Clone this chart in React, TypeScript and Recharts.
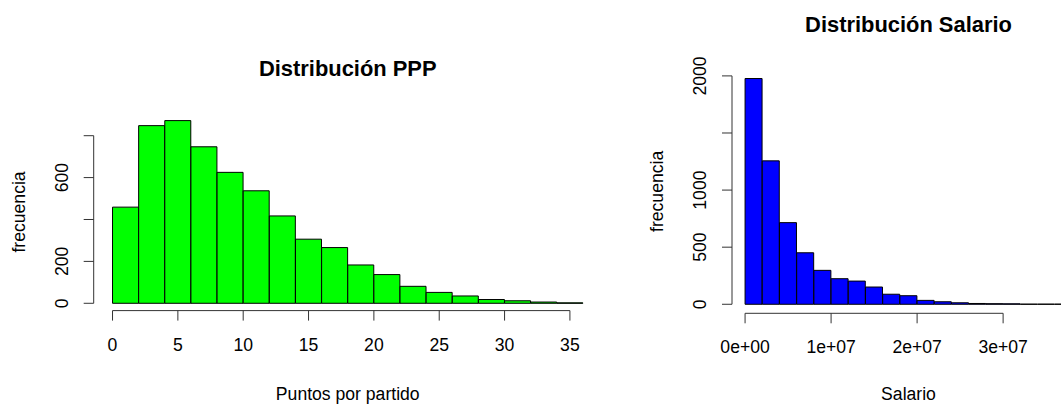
import { BarChart, Bar, XAxis, YAxis, ReferenceLine } from "recharts";

// histogram breaks and counts
const pppBreaks = [0, 2, 4, 6, 8, 10, 12, 14, 16, 18, 20, 22, 24, 26, 28, 30, 32, 34, 36];
const pppCounts = [459, 848, 872, 747, 625, 537, 417, 306, 266, 183, 137, 81, 52, 35, 18, 12, 6, 2];
const pppXTicks = [0, 5, 10, 15, 20, 25, 30, 35];
const pppYTicks = [0, 200, 400, 600, 800];
const pppYLabels = [0, 200, 600];

const salBreaks = [
  0, 2e6, 4e6, 6e6, 8e6, 10e6, 12e6, 14e6, 16e6, 18e6, 20e6, 22e6, 24e6, 26e6, 28e6, 30e6, 32e6, 34e6, 36e6, 38e6,
];
const salCounts = [1977, 1256, 715, 451, 297, 224, 203, 151, 88, 75, 34, 22, 13, 7, 5, 4, 1, 1, 1];
const salXTicks = [0, 1e7, 2e7, 3e7];
const salYTicks = [0, 500, 1000, 1500, 2000];
const salYLabels = [0, 500, 1000, 2000];

const FONT = "'Liberation Sans', Arial, sans-serif";
const FS = 17.6;
const H = 405;
const XH = 50;

// R style scientific labels: 1e+07
const sci = (v: number) => {
  if (v === 0) return "0e+00";
  const e = Math.floor(Math.log10(Math.abs(v)));
  const m = Math.round(v / Math.pow(10, e));
  return `${m}e+${String(e).padStart(2, "0")}`;
};

function YTick(props: any) {
  const { x, y, payload, shown } = props;
  if (!shown.includes(payload.value)) return null;
  return (
    <text
      x={x}
      y={y}
      transform={`rotate(-90 ${x} ${y})`}
      textAnchor="middle"
      fill="#000"
      fontSize={FS}
      fontFamily={FONT}
    >
      {payload.value}
    </text>
  );
}

type Box = { left: number; top: number; right: number; bottom: number };

function Hist(props: {
  breaks: number[];
  counts: number[];
  xTicks: number[];
  yTicks: number[];
  yLabels: number[];
  fill: string;
  title: string;
  xLabel: string;
  chartLeft: number;
  chartWidth: number;
  box: Box;
  fmt?: (v: number) => string;
}) {
  const { breaks, counts, xTicks, yTicks, yLabels, fill, title, xLabel, chartLeft, chartWidth, box, fmt } = props;
  const rows = counts.map((c, i) => ({ mid: (breaks[i] + breaks[i + 1]) / 2, count: c }));

  // R pads each axis range by 4%
  const x0 = breaks[0];
  const x1 = breaks[breaks.length - 1];
  const xPad = (x1 - x0) * 0.04;
  const xDomain = [x0 - xPad, x1 + xPad];
  const yMax = Math.max(...counts);
  const yDomain = [-yMax * 0.04, yMax * 1.04];

  const midX = (box.left + box.right) / 2 - chartLeft;
  const midY = (box.top + box.bottom) / 2;
  const ylabX = box.left - chartLeft - 68.7;

  return (
    <div style={{ position: "absolute", left: chartLeft, top: 0, width: chartWidth, height: H }}>
      <BarChart
        width={chartWidth}
        height={H}
        data={rows}
        barCategoryGap={0}
        barGap={0}
        margin={{
          top: box.top,
          right: chartLeft + chartWidth - box.right,
          bottom: H - box.bottom - XH,
          left: 0,
        }}
      >
        <XAxis
          dataKey="mid"
          type="number"
          domain={xDomain}
          allowDataOverflow
          ticks={xTicks}
          interval={0}
          height={XH}
          axisLine={false}
          tickLine={{ stroke: "#333" }}
          tickSize={10}
          tickMargin={17.5}
          tickFormatter={fmt}
          tick={{ fill: "#000", fontSize: FS, fontFamily: FONT }}
        />
        <YAxis
          type="number"
          domain={yDomain}
          allowDataOverflow
          ticks={yTicks}
          interval={0}
          width={box.left - chartLeft}
          axisLine={false}
          tickLine={{ stroke: "#333" }}
          tickSize={10}
          tickMargin={15.5}
          tick={<YTick shown={yLabels} />}
        />
        <Bar dataKey="count" fill={fill} stroke="#000" strokeWidth={1} isAnimationActive={false} />
        {/* axis lines only span the tick range, as in base R */}
        <ReferenceLine
          segment={[
            { x: xDomain[0], y: yTicks[0] },
            { x: xDomain[0], y: yTicks[yTicks.length - 1] },
          ]}
          stroke="#333"
          ifOverflow="visible"
        />
        <ReferenceLine
          segment={[
            { x: xTicks[0], y: yDomain[0] },
            { x: xTicks[xTicks.length - 1], y: yDomain[0] },
          ]}
          stroke="#333"
          ifOverflow="visible"
        />
      </BarChart>
      <svg
        width={chartWidth}
        height={H}
        style={{ position: "absolute", left: 0, top: 0, pointerEvents: "none" }}
        fontFamily={FONT}
      >
        <text x={midX} y={box.top - 37.6} textAnchor="middle" fontWeight="bold" fontSize={21.9} fill="#000">
          {title}
        </text>
        <text x={midX} y={H - 5} textAnchor="middle" fontSize={FS} fill="#000">
          {xLabel}
        </text>
        <text
          x={ylabX}
          y={midY}
          transform={`rotate(-90 ${ylabX} ${midY})`}
          textAnchor="middle"
          fontSize={FS}
          fill="#000"
        >
          frecuencia
        </text>
      </svg>
    </div>
  );
}

export default function App() {
  return (
    <div style={{ position: "relative", width: 1061, height: H, overflow: "hidden", background: "#fff" }}>
      <style>{`body { margin: 0; }`}</style>
      <Hist
        breaks={pppBreaks}
        counts={pppCounts}
        xTicks={pppXTicks}
        yTicks={pppYTicks}
        yLabels={pppYLabels}
        fill="#00ff00"
        title="Distribución PPP"
        xLabel="Puntos por partido"
        chartLeft={0}
        chartWidth={620}
        box={{ left: 93.7, top: 113.3, right: 601.8, bottom: 310.6 }}
      />
      <Hist
        breaks={salBreaks}
        counts={salCounts}
        xTicks={salXTicks}
        yTicks={salYTicks}
        yLabels={salYLabels}
        fill="#0000ff"
        title="Distribución Salario"
        xLabel="Salario"
        chartLeft={640}
        chartWidth={450}
        box={{ left: 732, top: 69.5, right: 1085, bottom: 313.3 }}
        fmt={sci}
      />
    </div>
  );
}
